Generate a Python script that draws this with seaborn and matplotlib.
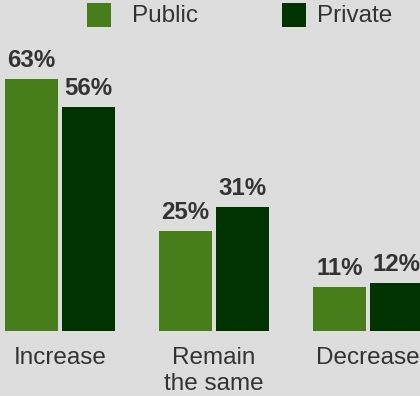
import matplotlib
matplotlib.use("Agg")
import matplotlib.pyplot as plt
import seaborn as sns
import pandas as pd
from matplotlib.patches import Rectangle

# Expected change in enrollment, by sector
categories = ["Increase", "Remain\nthe same", "Decrease"]
series = ["Public", "Private"]
public_pct = [63, 25, 11]
private_pct = [56, 31, 12]

colors = {"Public": "#477d1b", "Private": "#003300"}
bg = "#dddddd"
text_color = "#333333"

df = pd.DataFrame({
    "category": categories * 2,
    "sector": ["Public"] * len(categories) + ["Private"] * len(categories),
    "pct": public_pct + private_pct,
})

sns.set_theme(style="white")
plt.rcParams["font.family"] = ["Liberation Sans", "DejaVu Sans"]

W, H = 420, 396
fig = plt.figure(figsize=(W / 100, H / 100), dpi=100, facecolor=bg)

# axes spans full width; baseline at 331 px from top
ax = fig.add_axes([0, 65 / H, 1, 331 / H])
ax.set_facecolor(bg)

sns.barplot(data=df, x="category", y="pct", hue="sector", order=categories,
            hue_order=series, palette=colors, width=0.74, gap=0.07,
            linewidth=0, saturation=1, legend=False, ax=ax)

ax.set_xlim(-60 / 154, -60 / 154 + W / 154)
ax.set_ylim(0, 331 / 4)
for s in ax.spines.values():
    s.set_visible(False)
ax.set_yticks([])
ax.set_xlabel("")
ax.set_ylabel("")
ax.tick_params(axis="x", length=0, pad=11.5, labelsize=17.5, labelcolor=text_color)
for lbl in ax.get_xticklabels():
    lbl.set_linespacing(1.25)

for cont in ax.containers:
    for bar in cont:
        h = bar.get_height()
        ax.annotate(f"{h:.0f}%", (bar.get_x() + bar.get_width() / 2, h),
                    xytext=(0, 8.6), textcoords="offset points",
                    ha="center", va="baseline", fontsize=17.3,
                    fontweight="bold", color=text_color, annotation_clip=False)

# legend row along the top
legend_items = [("Public", 87, 132), ("Private", 282, 317)]
for name, sq_x, tx_x in legend_items:
    fig.patches.append(Rectangle((sq_x / W, 1 - 27 / H), 24 / W, 24 / H,
                                 transform=fig.transFigure,
                                 facecolor=colors[name], edgecolor="none"))
    fig.text(tx_x / W, 1 - 16.5 / H, name, ha="left", va="center",
             fontsize=17.5, color=text_color)

fig.savefig("out.png", dpi=100, facecolor=bg)
